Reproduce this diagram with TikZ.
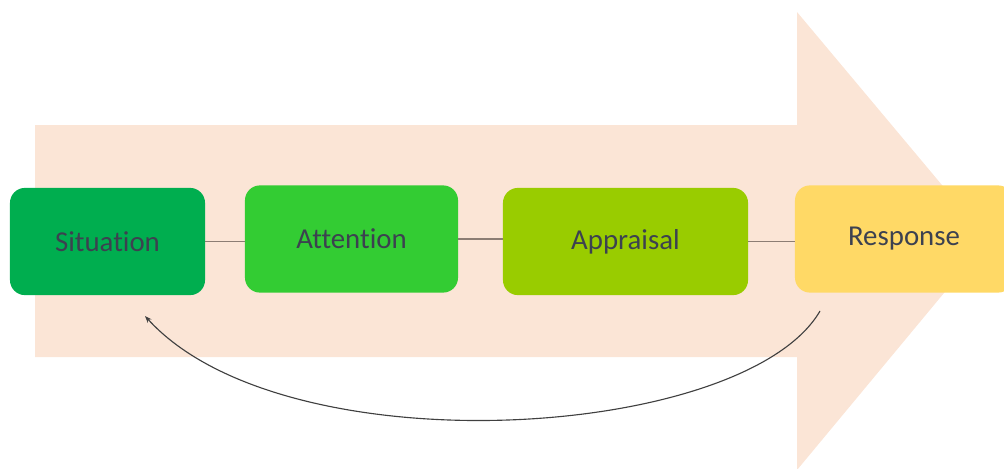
\documentclass[tikz,border=0pt]{standalone}
\usepackage{fontspec}
\setmainfont{Carlito}[Ligatures=NoCommon]
\usepackage{xcolor}
\usetikzlibrary{arrows.meta}

\definecolor{peach}{HTML}{FBE5D6}
\definecolor{sitgreen}{HTML}{00AE4F}
\definecolor{attgreen}{HTML}{33CC33}
\definecolor{appgreen}{HTML}{99CC00}
\definecolor{respyellow}{HTML}{FFD966}
\definecolor{labelgray}{HTML}{3C4150}
\definecolor{linkbrown}{HTML}{8C7D74}

\tikzset{
  stage/.style={rounded corners=0.375cm, minimum height=2.68cm,
    text=labelgray, font=\fontsize{20.5}{24}\selectfont},
  link/.style={linkbrown, line width=0.9pt}
}

\begin{document}
\begin{tikzpicture}[x=0.025cm,y=-0.025cm]
  \useasboundingbox (0,0) rectangle (1004,468);
  \clip (0,0) rectangle (1004,468);

  % Make the big arrow in the background
  \fill[peach] (35,125) -- (797,125) -- (797,12) -- (988,240)
    -- (797,470) -- (797,357) -- (35,357) -- cycle;

  % The four stages
  \node[stage, fill=sitgreen, minimum width=4.875cm] (sit) at (107.5,241.5) {Situation};
  \node[stage, fill=attgreen, minimum width=5.325cm] (att) at (351.5,239) {Attention};
  \node[stage, fill=appgreen, minimum width=6.125cm] (app) at (625.5,241.5) {Appraisal};
  \node[stage, fill=respyellow, minimum width=5.45cm] (resp) at (904,239) {Response};

  % Link the stages
  \draw[link] (sit.east) -- (sit.east -| att.west);
  \draw[link] (att.east) -- (att.east -| app.west);
  \draw[link] (app.east) -- (app.east -| resp.west);

  % Feedback from the response back to the situation
  \coordinate (fbstart) at (820,311);
  \coordinate (fbend) at (145,316);
  \draw[black!75, line width=0.8pt, -{Stealth[length=5pt]}] (fbstart)
    .. controls (745,440) and (285,470) .. (fbend);
\end{tikzpicture}
\end{document}
